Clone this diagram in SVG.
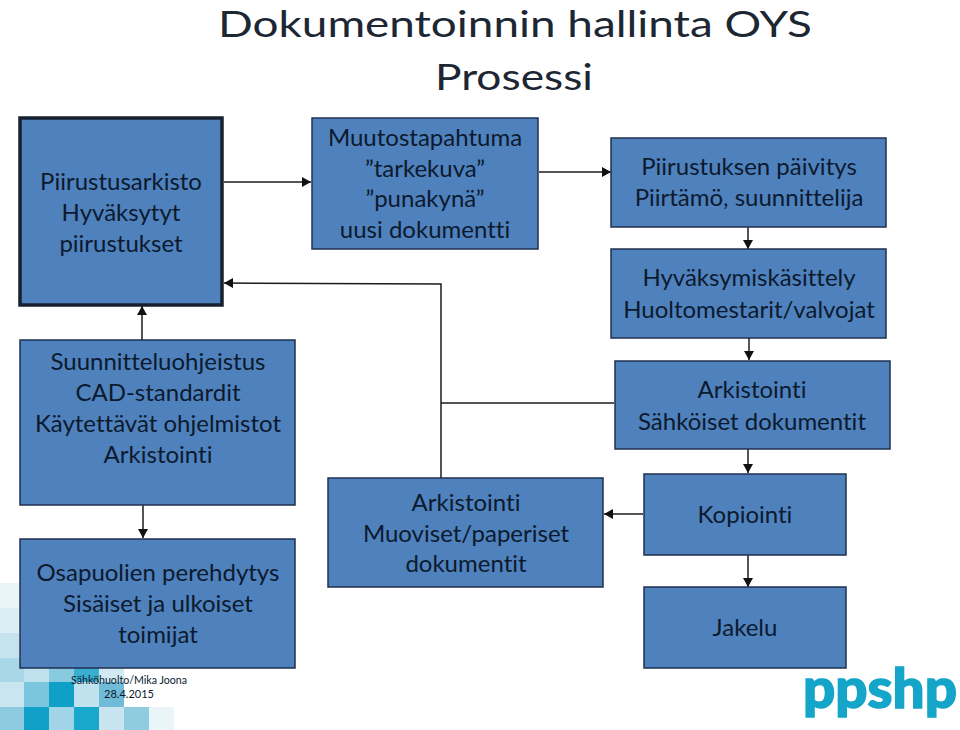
<svg xmlns="http://www.w3.org/2000/svg" width="960" height="730" viewBox="0 0 960 730">
<style>
.box{fill:#4f81bd;stroke:#1f3150;stroke-width:1.5}
.thick{stroke:#16202e;stroke-width:3.5}
text{font-family:"Lato","Carlito","Open Sans",sans-serif;fill:#0c1a2e;text-anchor:middle;font-variant-ligatures:none}
.t{font-size:24px}
.title{font-size:37px;fill:#1d2733}
.foot{font-size:11px}
.c{fill:none;stroke:#1c1c1c;stroke-width:1.5}
</style>
<defs>
<marker id="a" markerUnits="userSpaceOnUse" markerWidth="10" markerHeight="10" refX="9" refY="5" orient="auto"><path d="M0 0L9 5L0 10Z" fill="#111"/></marker>
</defs>
<rect width="960" height="730" fill="#fff"/>
<g id="background">
<rect x="0" y="583" width="19" height="25" fill="#eaf5f9"/>
<rect x="0" y="608" width="19" height="25" fill="#dceef5"/>
<rect x="0" y="633" width="19" height="25" fill="#c4e3ee"/>
<rect x="0" y="658" width="24" height="24" fill="#a8d8e8"/>
<rect x="24" y="668" width="25" height="14" fill="#c0e2ee"/>
<rect x="49" y="668" width="25" height="14" fill="#88cbe0"/>
<rect x="74" y="668" width="25" height="14" fill="#38aed0"/>
<rect x="99" y="668" width="25" height="14" fill="#d0e9f2"/>
<rect x="0" y="682" width="24" height="25" fill="#c8e5f0"/>
<rect x="24" y="682" width="25" height="25" fill="#7cc5de"/>
<rect x="49" y="682" width="25" height="25" fill="#0fa0c8"/>
<rect x="74" y="682" width="25" height="25" fill="#c0e2ee"/>
<rect x="99" y="682" width="25" height="25" fill="#70bcd8"/>
<rect x="0" y="707" width="24" height="23" fill="#8ccae0"/>
<rect x="24" y="707" width="25" height="23" fill="#10a0c8"/>
<rect x="49" y="707" width="25" height="23" fill="#a0d4e6"/>
<rect x="74" y="707" width="25" height="23" fill="#18a8cc"/>
<rect x="99" y="707" width="25" height="23" fill="#c8e4f0"/>
<rect x="124" y="707" width="25" height="23" fill="#90cce0"/>
<rect x="149" y="707" width="25" height="23" fill="#eaf5f9"/>
</g>
<g id="connectors">
<path class="c" marker-end="url(#a)" d="M224 182H311"/>
<path class="c" marker-end="url(#a)" d="M539 172H611"/>
<path class="c" marker-end="url(#a)" d="M748 227V249"/>
<path class="c" marker-end="url(#a)" d="M749 338V360"/>
<path class="c" marker-end="url(#a)" d="M748 449V473"/>
<path class="c" marker-end="url(#a)" d="M748 555V587"/>
<path class="c" marker-end="url(#a)" d="M643 514H604"/>
<path class="c" marker-end="url(#a)" d="M142 340V306"/>
<path class="c" marker-end="url(#a)" d="M143 505V538"/>
<path class="c" d="M614 403H441"/>
<path class="c" marker-end="url(#a)" d="M441 478V284L224 283"/>
</g>
<g id="title">
<text class="title" x="515" y="37" textLength="594" lengthAdjust="spacingAndGlyphs">Dokumentoinnin hallinta OYS</text>
<text class="title" x="514" y="90" textLength="158" lengthAdjust="spacingAndGlyphs">Prosessi</text>
</g>
<g id="n1"><rect class="box thick" x="20" y="118" width="202" height="187"/>
<text class="t" x="121" y="190">Piirustusarkisto</text><text class="t" x="121" y="221">Hyväksytyt</text><text class="t" x="121" y="252">piirustukset</text></g>
<g id="n2"><rect class="box" x="312" y="118" width="226" height="131"/>
<text class="t" x="425" y="146">Muutostapahtuma</text><text class="t" x="425" y="177">”tarkekuva”</text><text class="t" x="425" y="207">”punakynä”</text><text class="t" x="425" y="238">uusi dokumentti</text></g>
<g id="n3"><rect class="box" x="611" y="138" width="275" height="89"/>
<text class="t" x="749" y="175">Piirustuksen päivitys</text><text class="t" x="749" y="206">Piirtämö, suunnittelija</text></g>
<g id="n4"><rect class="box" x="611" y="249" width="275" height="89"/>
<text class="t" x="749" y="286">Hyväksymiskäsittely</text><text class="t" x="749" y="318">Huoltomestarit/valvojat</text></g>
<g id="n5"><rect class="box" x="615" y="361" width="275" height="88"/>
<text class="t" x="752" y="398">Arkistointi</text><text class="t" x="752" y="430">Sähköiset dokumentit</text></g>
<g id="n6"><rect class="box" x="20" y="340" width="275" height="165"/>
<text class="t" x="158" y="370">Suunnitteluohjeistus</text><text class="t" x="158" y="401">CAD-standardit</text><text class="t" x="158" y="432">Käytettävät ohjelmistot</text><text class="t" x="158" y="463">Arkistointi</text></g>
<g id="n7"><rect class="box" x="20" y="539" width="275" height="129"/>
<text class="t" x="158" y="581">Osapuolien perehdytys</text><text class="t" x="158" y="612">Sisäiset ja ulkoiset</text><text class="t" x="158" y="643">toimijat</text></g>
<g id="n8"><rect class="box" x="328" y="478" width="275" height="109"/>
<text class="t" x="466" y="511">Arkistointi</text><text class="t" x="466" y="542">Muoviset/paperiset</text><text class="t" x="466" y="572">dokumentit</text></g>
<g id="n9"><rect class="box" x="644" y="474" width="202" height="81"/>
<text class="t" x="745" y="523">Kopiointi</text></g>
<g id="n10"><rect class="box" x="644" y="587" width="202" height="81"/>
<text class="t" x="745" y="636">Jakelu</text></g>
<g id="footer">
<text class="foot" x="129" y="684" textLength="116" lengthAdjust="spacingAndGlyphs">Sähköhuolto/Mika Joona</text>
<text class="foot" x="129" y="698">28.4.2015</text>
</g>
<g id="logo"><text x="880" y="708" font-size="56" font-weight="900" textLength="154" lengthAdjust="spacingAndGlyphs" style="fill:#14a5c9;stroke:#14a5c9;stroke-width:1.5;font-family:Lato,sans-serif">ppshp</text></g>
</svg>
